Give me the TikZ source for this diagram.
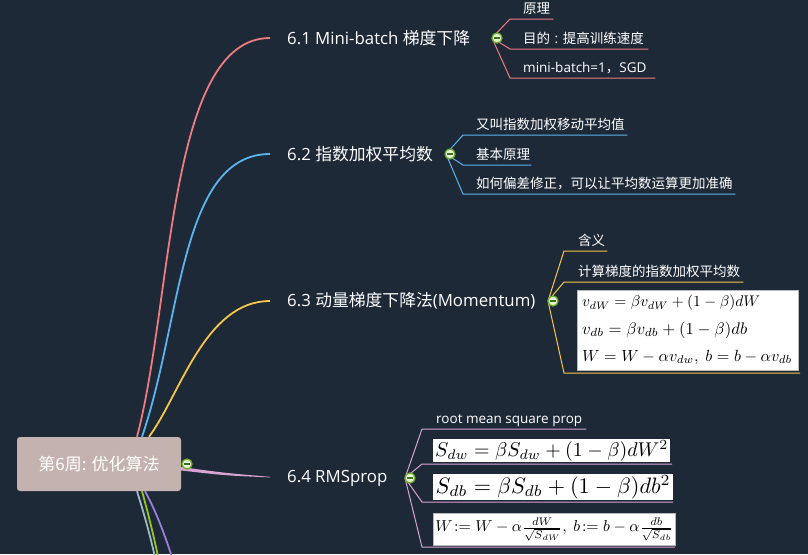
\documentclass[tikz,border=0pt]{standalone}
\usepackage{fontspec}
\usepackage{amsmath}
\usepackage{graphicx}
\setmainfont{Open Sans}
\newfontfamily\cjk{Noto Sans CJK SC}
\newcommand\zh[1]{{\cjk #1}}
\usetikzlibrary{calc}
\definecolor{bgc}{HTML}{1E2938}
\definecolor{rootc}{HTML}{C4B2AE}
\definecolor{redc}{HTML}{EE7B80}
\definecolor{bluec}{HTML}{5AB4EE}
\definecolor{yelc}{HTML}{F6C649}
\definecolor{pinkc}{HTML}{D8A2D2}
\definecolor{grayc}{HTML}{9DB9C8}
\definecolor{greenc}{HTML}{9BC31E}
\definecolor{purpc}{HTML}{9B7EDC}
\definecolor{togring}{HTML}{6FB02E}
\definecolor{togfill}{HTML}{E6F3D4}
\definecolor{minusc}{HTML}{3F6E1E}
\definecolor{fborder}{HTML}{B8B8B8}
\tikzset{
  rootbox/.style={rectangle, rounded corners=3pt, fill=rootc, minimum width=164pt, minimum height=54pt, inner sep=0pt, text=white, font=\cjk\fontsize{17}{20}\selectfont},
  mainb/.style={anchor=west, inner xsep=17pt, inner ysep=0pt, text=white, font=\fontsize{16.8}{19}\selectfont},
  subitem/.style={anchor=south west, inner xsep=0pt, inner ysep=2pt, text=white, text height=11pt, text depth=3pt, font=\fontsize{13.5}{16}\selectfont},
  tog/.style={circle, minimum size=10pt, inner sep=0pt, fill=togfill, draw=togring, line width=1.3pt,
    path picture={\draw[line width=1.6pt, minusc] ([xshift=-2.6pt]path picture bounding box.center) -- ([xshift=2.6pt]path picture bounding box.center);}},
  fbox/.style={anchor=north west, fill=white, inner sep=0pt},
  fline/.style={anchor=west, inner sep=0pt, text=black},
  conn/.style={line width=1.8pt},
  thinln/.style={line width=1pt}
}
\begin{document}
\begin{tikzpicture}[x=1pt,y=-1pt]
\useasboundingbox (0,0) rectangle (808,554);
\fill[bgc] (0,0) rectangle (808,554);

% root
\node[rootbox] (root) at (99,464) {第6周: 优化算法};

% main branch labels
\node[mainb] (b1) at (270,38) {6.1 Mini-batch \zh{梯度下降}};
\node[mainb] (b2) at (270,154) {6.2 \zh{指数加权平均数}};
\node[mainb] (b3) at (270,301) {6.3 \zh{动量梯度下降法}(Momentum)};
\node[mainb] (b4) at (270,478) {6.4 RMSprop};

% main connectors
\draw[conn, redc] ($(root.north)+(38,0)$) .. controls (173,300) and (168,38) .. (b1.west);
\draw[conn, bluec] ($(root.north)+(43,0)$) .. controls (182,320) and (180,154) .. (b2.west);
\draw[conn, yelc] ($(root.north)+(50,0)$) .. controls (180,395) and (205,301) .. (b3.west);
\fill[pinkc] ($(root.east)+(0,3)$) .. controls (225,473) .. ($(b4.west)+(0,-1.2)$) -- ($(b4.west)+(0,-0.6)$) .. controls (225,475.5) .. ($(root.east)+(0,6.5)$) -- cycle;

% branches leaving below (clipped)
\begin{scope}
\clip (0,0) rectangle (808,554);
\coordinate (e5) at (162,590);
\coordinate (e6) at (165,590);
\coordinate (e7) at (182,590);
\draw[conn, greenc] ($(root.south)+(43,0)$) .. controls (150,520) and (156,545) .. (e6);
\draw[conn, grayc] ($(root.south)+(38,0)$) .. controls (146,520) and (153,545) .. (e5);
\draw[conn, purpc] ($(root.south)+(46,0)$) .. controls (158,515) and (169,545) .. (e7);
\end{scope}

% ---------- 6.1 ----------
\coordinate (o1) at (492,38);
\node[subitem] (s11) at (510,19) {\makebox[43pt][l]{\hspace*{13pt}\zh{原理}}};
\node[subitem] (s12) at (510,49) {\makebox[138pt][l]{\hspace*{13pt}\zh{目的}\hspace{4.5pt}:\hspace{4.5pt}\zh{提高训练速度}}};
\node[subitem] (s13) at (510,78) {\makebox[145pt][l]{\hspace*{13pt}mini-batch=1\zh{，}SGD}};
\foreach \s in {s11,s12,s13}{\draw[thinln, redc] (o1) -- (\s.south west) -- (\s.south east);}
\node[tog] (t1) at (497,38) {};

% ---------- 6.2 ----------
\coordinate (o2) at (446,154);
\node[subitem] (s21) at (463,135) {\makebox[164pt][l]{\hspace*{13pt}\zh{又叫指数加权移动平均值}}};
\node[subitem] (s22) at (463,165) {\makebox[68pt][l]{\hspace*{13pt}\zh{基本原理}}};
\node[subitem] (s23) at (463,194) {\makebox[272pt][l]{\hspace*{13pt}\zh{如何偏差修正，可以让平均数运算更加准确}}};
\foreach \s in {s21,s22,s23}{\draw[thinln, bluec] (o2) -- (\s.south west) -- (\s.south east);}
\node[tog] (t2) at (450,154) {};

% ---------- 6.3 ----------
\coordinate (o3) at (548,301);
\node[subitem] (s31) at (564,251) {\makebox[43pt][l]{\hspace*{14pt}\zh{含义}}};
\node[subitem] (s32) at (564,282) {\makebox[179pt][l]{\hspace*{14pt}\zh{计算梯度的指数加权平均数}}};
\coordinate (s33w) at (564,373);
\coordinate (s33e) at (800,373);
\foreach \s in {s31,s32}{\draw[thinln, yelc] (o3) -- (\s.south west) -- (\s.south east);}
\draw[thinln, yelc] (o3) -- (s33w) -- (s33e);
\node[fbox, draw=fborder, line width=0.6pt, minimum width=221pt, minimum height=80pt] (f3) at (577,290) {};
\node[fline] (f31) at (582,303) {\resizebox{178pt}{!}{$v_{dW} = \beta v_{dW} + (1-\beta)dW$}};
\node[fline] (f32) at (582,330) {\resizebox{165pt}{!}{$v_{db} = \beta v_{db} + (1-\beta)db$}};
\node[fline] (f33) at (582,357) {\resizebox{210pt}{!}{$W = W - \alpha v_{dw},\ b = b - \alpha v_{db}$}};
\node[tog] (t3) at (553,301) {};

% ---------- 6.4 ----------
\coordinate (o4) at (405,478);
\node[subitem] (s41) at (422,429) {\makebox[164pt][l]{\hspace*{14pt}root mean square prop}};
\coordinate (u2w) at (422,464); \coordinate (u2e) at (672,464);
\coordinate (u3w) at (422,502); \coordinate (u3e) at (673,502);
\coordinate (u4w) at (422,547); \coordinate (u4e) at (675,547);
\draw[thinln, pinkc] (o4) -- (s41.south west) -- (s41.south east);
\draw[thinln, pinkc] (o4) -- (u2w) -- (u2e);
\draw[thinln, pinkc] (o4) -- (u3w) -- (u3e);
\draw[thinln, pinkc] (o4) -- (u4w) -- (u4e);
\node[fbox, minimum width=237pt, minimum height=23pt] (f41) at (433,439) {\resizebox{233pt}{!}{$S_{dw} = \beta S_{dw} + (1-\beta)dW^2$}};
\node[fbox, minimum width=240pt, minimum height=26pt] (f42) at (433,474) {\resizebox{235pt}{!}{$S_{db} = \beta S_{db} + (1-\beta)db^2$}};
\node[fbox, draw=fborder, line width=0.6pt, minimum width=242pt, minimum height=32pt] (f43) at (433,513) {\resizebox{238pt}{!}{$W\!:= W - \alpha\frac{dW}{\sqrt{S_{dW}}},\ b\!:= b - \alpha\frac{db}{\sqrt{S_{db}}}$}};
\node[tog] (t4) at (410,478) {};
\node[tog] (t0) at (187,464) {};
\end{tikzpicture}
\end{document}
